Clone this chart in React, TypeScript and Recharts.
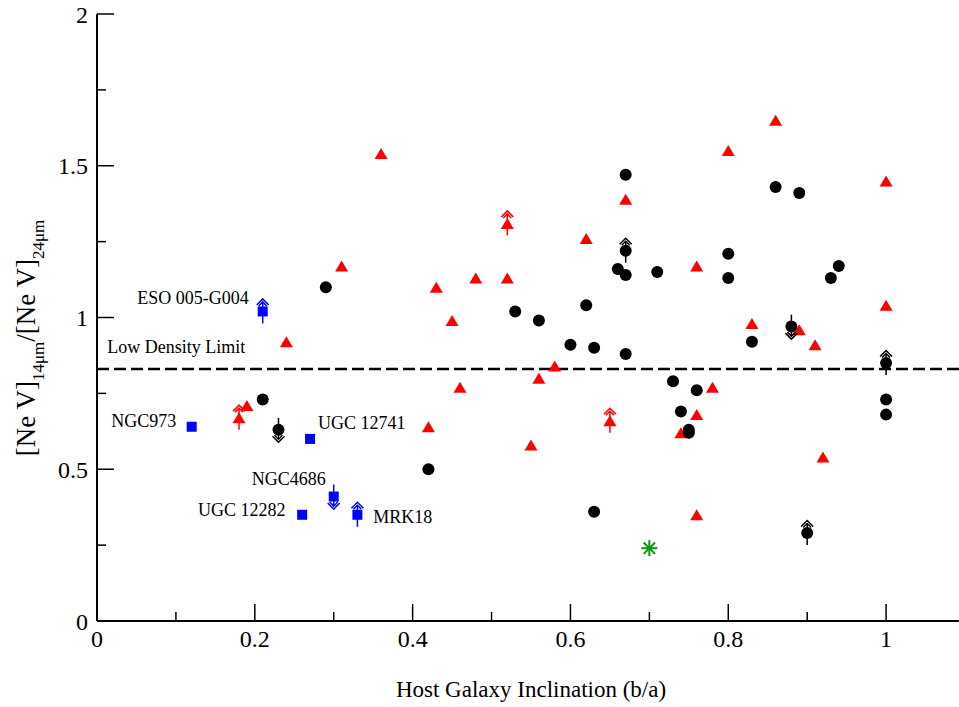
import { ScatterChart, Scatter, XAxis, YAxis, ReferenceLine, ReferenceDot, Customized } from 'recharts';

const FONT = '"Liberation Serif", "Times New Roman", serif';

// black circles (x = b/a, y = ratio, limit: '' | 'up' | 'down')
const blackX = [0.21, 0.23, 0.29, 0.42, 0.53, 0.56, 0.6, 0.62, 0.63, 0.63, 0.66, 0.67, 0.67, 0.67, 0.67, 0.71, 0.73, 0.74, 0.75, 0.75, 0.76, 0.8, 0.8, 0.83, 0.86, 0.88, 0.89, 0.9, 0.93, 0.94, 1.0, 1.0, 1.0];
const blackY = [0.73, 0.63, 1.1, 0.5, 1.02, 0.99, 0.91, 1.04, 0.9, 0.36, 1.16, 1.47, 1.22, 1.14, 0.88, 1.15, 0.79, 0.69, 0.63, 0.62, 0.76, 1.21, 1.13, 0.92, 1.43, 0.97, 1.41, 0.29, 1.13, 1.17, 0.85, 0.73, 0.68];
const blackLimit = ['', 'down', '', '', '', '', '', '', '', '', '', '', 'up', '', '', '', '', '', '', '', '', '', '', '', '', 'down', '', 'up', '', '', 'up', '', ''];

// red triangles
const redX = [0.18, 0.19, 0.24, 0.31, 0.36, 0.42, 0.43, 0.45, 0.46, 0.48, 0.52, 0.52, 0.55, 0.56, 0.58, 0.62, 0.65, 0.67, 0.74, 0.76, 0.76, 0.76, 0.78, 0.8, 0.83, 0.86, 0.89, 0.91, 0.92, 1.0, 1.0];
const redY = [0.67, 0.71, 0.92, 1.17, 1.54, 0.64, 1.1, 0.99, 0.77, 1.13, 1.31, 1.13, 0.58, 0.8, 0.84, 1.26, 0.66, 1.39, 0.62, 1.17, 0.68, 0.35, 0.77, 1.55, 0.98, 1.65, 0.96, 0.91, 0.54, 1.45, 1.04];
const redLimit = ['up', '', '', '', '', '', '', '', '', '', 'up', '', '', '', '', '', 'up', '', '', '', '', '', '', '', '', '', '', '', '', '', ''];

// blue squares (named galaxies)
const blueX = [0.21, 0.12, 0.27, 0.3, 0.26, 0.33];
const blueY = [1.02, 0.64, 0.6, 0.41, 0.35, 0.35];
const blueLimit = ['up', '', '', 'down', '', 'up'];

// green star
const greenX = [0.7];
const greenY = [0.24];

const lowDensityLimit = 0.83;

const xTicks = [0, 0.1, 0.2, 0.3, 0.4, 0.5, 0.6, 0.7, 0.8, 0.9, 1.0, 1.1];
const yTicks = [0, 0.25, 0.5, 0.75, 1, 1.25, 1.5, 1.75, 2];

const toPoints = (xs: number[], ys: number[], lim?: string[]) =>
  xs.map((x, i) => ({ x, y: ys[i], limit: lim ? lim[i] : '' }));

const blackData = toPoints(blackX, blackY, blackLimit);
const redData = toPoints(redX, redY, redLimit);
const blueData = toPoints(blueX, blueY, blueLimit);
const greenData = toPoints(greenX, greenY);

const limitArrow = (cx: number, cy: number, dir: string, color: string) => {
  if (!dir) return null;
  const s = dir === 'up' ? -1 : 1;
  const tip = cy + s * 12.5;
  const tail = cy - s * 12;
  return (
    <g stroke={color} strokeWidth={1.5} fill="none">
      <line x1={cx} y1={tail} x2={cx} y2={tip - s * 3} />
      <polyline points={`${cx - 6},${tip - s * 6} ${cx},${tip} ${cx + 6},${tip - s * 6}`} />
      <polyline points={`${cx - 4},${tip - s * 7} ${cx},${tip - s * 3} ${cx + 4},${tip - s * 7}`} />
    </g>
  );
};

const circleShape = (p: any) => (
  <g>
    {limitArrow(p.cx, p.cy, p.payload.limit, '#000')}
    <circle cx={p.cx} cy={p.cy} r={6} fill="#000" />
  </g>
);

const triangleShape = (p: any) => (
  <g>
    {limitArrow(p.cx, p.cy, p.payload.limit, '#ff0000')}
    <polygon points={`${p.cx - 6.5},${p.cy + 5.5} ${p.cx + 6.5},${p.cy + 5.5} ${p.cx},${p.cy - 5.5}`} fill="#ff0000" />
  </g>
);

const squareShape = (p: any) => (
  <g>
    {limitArrow(p.cx, p.cy, p.payload.limit, '#0000ff')}
    <rect x={p.cx - 5} y={p.cy - 5} width={10} height={10} fill="#0000ff" />
  </g>
);

const starShape = (p: any) => {
  const d = 5.7;
  return (
    <g stroke="#0a990a" strokeWidth={2}>
      <line x1={p.cx} y1={p.cy - 8} x2={p.cx} y2={p.cy + 8} />
      <line x1={p.cx - 8} y1={p.cy} x2={p.cx + 8} y2={p.cy} />
      <line x1={p.cx - d} y1={p.cy - d} x2={p.cx + d} y2={p.cy + d} />
      <line x1={p.cx - d} y1={p.cy + d} x2={p.cx + d} y2={p.cy - d} />
    </g>
  );
};

const fmt = (v: number) => String(Math.round(v * 100) / 100);

const XTick = (side: 'bottom' | 'top') => (p: any) => {
  const v = p.payload.value;
  const major = Math.round(v * 10) % 2 === 0;
  const len = major ? 17 : 9;
  const s = side === 'bottom' ? -1 : 1;
  return (
    <g>
      <line x1={p.x} y1={p.y} x2={p.x} y2={p.y + s * len} stroke="#000" strokeWidth={1.5} />
      {side === 'bottom' && major && (
        <text x={p.x} y={p.y + 26} textAnchor="middle" fontSize={24} fontFamily={FONT} fill="#000">
          {fmt(v)}
        </text>
      )}
    </g>
  );
};

const YTick = (side: 'left' | 'right') => (p: any) => {
  const v = p.payload.value;
  const major = Math.round(v * 4) % 2 === 0;
  const len = major ? 17 : 9;
  const s = side === 'left' ? 1 : -1;
  return (
    <g>
      <line x1={p.x} y1={p.y} x2={p.x + s * len} y2={p.y} stroke="#000" strokeWidth={1.5} />
      {side === 'left' && major && (
        <text x={p.x - 9} y={p.y + 8.5} textAnchor="end" fontSize={24} fontFamily={FONT} fill="#000">
          {fmt(v)}
        </text>
      )}
    </g>
  );
};

const Titles = () => (
  <g fontFamily={FONT} fill="#000">
    <text x={531} y={697} textAnchor="middle" fontSize={23}>
      Host Galaxy Inclination (b/a)
    </text>
    <text transform="translate(35,338) rotate(-90)" x={0} y={0} textAnchor="middle" fontSize={27}>
      <tspan>[Ne V]</tspan>
      <tspan fontSize={17} dy={9}>14μm</tspan>
      <tspan dy={-9}>/[Ne V]</tspan>
      <tspan fontSize={17} dy={9}>24μm</tspan>
    </text>
  </g>
);

const note = (x: number, y: number, text: string) => (
  <ReferenceDot
    key={text}
    xAxisId="b"
    yAxisId="l"
    x={x}
    y={y}
    r={0}
    fill="none"
    stroke="none"
    ifOverflow="visible"
    label={{ value: text, position: 'right', offset: 0, fontSize: 18, fontFamily: FONT, fill: '#000' }}
  />
);

export default function App() {
  const axisLine = { stroke: '#000', strokeWidth: 2 };
  return (
    <div style={{ position: 'absolute', left: 0, top: 0, width: 959, height: 707, overflow: 'hidden', background: '#fff' }}>
      <ScatterChart width={1000} height={707} margin={{ top: 14, right: 35, bottom: 0, left: 0 }}>
        <XAxis xAxisId="b" type="number" dataKey="x" domain={[0, 1.1]} allowDataOverflow ticks={xTicks} interval={0}
          height={86} tickSize={0} tickMargin={0} tickLine={false} axisLine={axisLine} tick={XTick('bottom')} />
        <XAxis xAxisId="t" orientation="top" type="number" dataKey="x" domain={[0, 1.1]} allowDataOverflow ticks={xTicks} interval={0}
          height={0} tickSize={0} tickMargin={0} tickLine={false} axisLine={axisLine} tick={XTick('top')} />
        <YAxis yAxisId="l" type="number" dataKey="y" domain={[0, 2]} allowDataOverflow ticks={yTicks} interval={0}
          width={97} tickSize={0} tickMargin={0} tickLine={false} axisLine={axisLine} tick={YTick('left')} />
        <YAxis yAxisId="r" orientation="right" type="number" dataKey="y" domain={[0, 2]} allowDataOverflow ticks={yTicks} interval={0}
          width={0} tickSize={0} tickMargin={0} tickLine={false} axisLine={axisLine} tick={YTick('right')} />

        <ReferenceLine xAxisId="b" yAxisId="l" y={lowDensityLimit} stroke="#000" strokeWidth={2.5} strokeDasharray="12 5" />

        <Scatter xAxisId="b" yAxisId="l" data={redData} shape={triangleShape} isAnimationActive={false} />
        <Scatter xAxisId="b" yAxisId="l" data={blackData} shape={circleShape} isAnimationActive={false} />
        <Scatter xAxisId="b" yAxisId="l" data={blueData} shape={squareShape} isAnimationActive={false} />
        <Scatter xAxisId="b" yAxisId="l" data={greenData} shape={starShape} isAnimationActive={false} />

        {note(0.051, 1.067, 'ESO 005-G004')}
        {note(0.013, 0.903, 'Low Density Limit')}
        {note(0.018, 0.659, 'NGC973')}
        {note(0.28, 0.654, 'UGC 12741')}
        {note(0.196, 0.468, 'NGC4686')}
        {note(0.128, 0.366, 'UGC 12282')}
        {note(0.35, 0.343, 'MRK18')}

        <Customized component={Titles} />
      </ScatterChart>
    </div>
  );
}
